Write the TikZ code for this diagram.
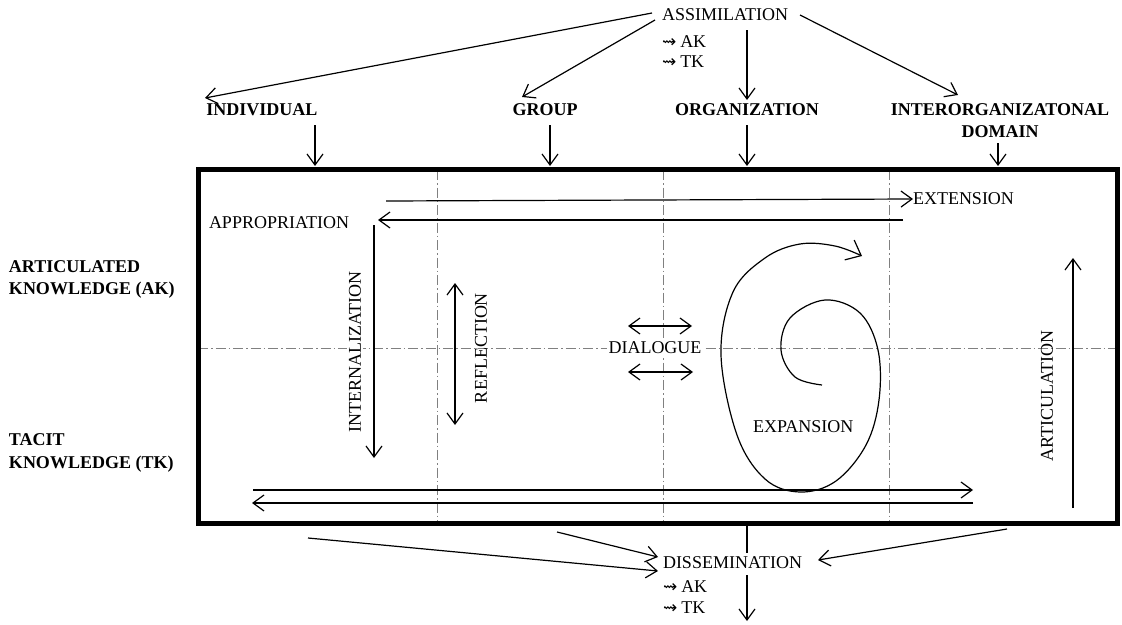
\documentclass[tikz,border=0pt]{standalone}
\usepackage{fontspec}
\setmainfont{Liberation Serif}
\newfontfamily\symfont{DejaVu Sans}
\usetikzlibrary{arrows.meta}
\newcommand{\ksym}{{\symfont\fontsize{17}{17}\selectfont ⇝}\hspace{4pt}}
\begin{document}
\begin{tikzpicture}[x=1pt,y=-1pt,
  every node/.style={inner sep=0pt, outer sep=0pt, font=\fontsize{18}{20}\selectfont},
  lbl/.style={font=\fontsize{18}{20}\selectfont\bfseries},
  ln/.style={line width=1.2pt},
  arr/.style={ln, -{Straight Barb[length=11pt,width=16pt]}},
  dbl/.style={ln, {Straight Barb[length=11pt,width=16pt]}-{Straight Barb[length=11pt,width=16pt]}},
  gridln/.style={gray, line width=0.5pt, dash pattern=on 10pt off 3pt on 1.5pt off 3pt},
  frame/.style={line width=5pt},
]
\useasboundingbox (0,0) rectangle (1122,624);

% grid lines
\coordinate (g1t) at (437,170); \coordinate (g1b) at (437,522);
\coordinate (g2t) at (663,170); \coordinate (g2b) at (663,522);
\coordinate (g3t) at (889,170); \coordinate (g3b) at (889,522);
\coordinate (ghl) at (198,348); \coordinate (ghr) at (1117,348);
\draw[gridln] (g1t) -- (g1b);
\draw[gridln] (g2t) -- (g2b);
\draw[gridln] (g3t) -- (g3b);
\draw[gridln] (ghl) -- (ghr);

% frame
\coordinate (fa) at (198,169.5); \coordinate (fb) at (1117,523);
\draw[frame] (fa) rectangle (fb);

% top
\node[anchor=west] (assim) at (662,15) {ASSIMILATION};
\node[anchor=west] (aak) at (662,42) {\ksym AK};
\node[anchor=west] (atk) at (662,62) {\ksym TK};

\node[lbl] (ind) at (262,110) {INDIVIDUAL};
\node[lbl] (grp) at (545,110) {GROUP};
\node[lbl] (org) at (747,110) {ORGANIZATION};
\node[lbl] (inter) at (1000,110) {INTERORGANIZATONAL};
\node[lbl] (dom) at (1000,132) {DOMAIN};

\coordinate (s1) at (652,13); \coordinate (s2) at (655,20);
\coordinate (s3) at (747,30); \coordinate (s4) at (800,15);
\coordinate (t1) at (205,98); \coordinate (t2) at (522,97);
\coordinate (t3) at (747,100); \coordinate (t4) at (958,95);
\draw[arr] (s1) -- (t1);
\draw[arr] (s2) -- (t2);
\draw[arr] (s3) -- (t3);
\draw[arr] (s4) -- (t4);

\coordinate (d1a) at (315,125); \coordinate (d1b) at (315,166);
\coordinate (d2a) at (550,125); \coordinate (d2b) at (550,166);
\coordinate (d3a) at (747,125); \coordinate (d3b) at (747,166);
\coordinate (d4a) at (998,143); \coordinate (d4b) at (998,166);
\draw[arr] (d1a) -- (d1b);
\draw[arr] (d2a) -- (d2b);
\draw[arr] (d3a) -- (d3b);
\draw[arr] (d4a) -- (d4b);

% left labels
\node[lbl, anchor=west] (art1) at (9,267) {ARTICULATED};
\node[lbl, anchor=west] (art2) at (9,290) {KNOWLEDGE (AK)};
\node[lbl, anchor=west] (tac1) at (9,440) {TACIT};
\node[lbl, anchor=west] (tac2) at (9,464) {KNOWLEDGE (TK)};

% inside
\node[anchor=west] (ext) at (913,199) {EXTENSION};
\node[anchor=west] (app) at (209,223) {APPROPRIATION};
\coordinate (e1) at (386,201); \coordinate (e2) at (903,220); \coordinate (e3) at (378,220);
\draw[arr] (e1) -- (ext.west);
\draw[arr] (e2) -- (e3);

\node[rotate=90, fill=white, inner sep=2pt] (intl) at (355,352) {INTERNALIZATION};
\coordinate (i1) at (374,225); \coordinate (i2) at (374,458);
\draw[arr] (i1) -- (i2);

\node[rotate=90] (refl) at (481,348) {REFLECTION};
\coordinate (r1) at (455,425); \coordinate (r2) at (455,283);
\draw[dbl] (r1) -- (r2);

\node[fill=white, inner sep=2pt] (dia) at (655,348) {DIALOGUE};
\coordinate (q1) at (628,326); \coordinate (q2) at (692,326);
\coordinate (q3) at (628,372); \coordinate (q4) at (693,372);
\draw[dbl] (q1) -- (q2);
\draw[dbl] (q3) -- (q4);

% spiral
\draw[ln, -{Straight Barb[length=13pt,width=22pt]}] plot[smooth, tension=0.6] coordinates {
 (822,385) (795,377) (781,350) (790,318) (825,300) (860,313) (878,350)
 (879,400) (866,445) (836,481) (800,492) (765,479) (737,435) (721,355)
 (733,292) (765,258) (800,244) (835,246) (862,256)};
\node[anchor=west] (expn) at (753,427) {EXPANSION};

\node[rotate=90] (artc) at (1047,396) {ARTICULATION};
\coordinate (c1) at (1073,508); \coordinate (c2) at (1073,258);
\draw[arr] (c1) -- (c2);

\coordinate (b1) at (253,490); \coordinate (b2) at (973,490);
\coordinate (b3) at (973,503); \coordinate (b4) at (252,503);
\draw[arr] (b1) -- (b2);
\draw[arr] (b3) -- (b4);

% bottom
\node[anchor=west] (diss) at (663,563) {DISSEMINATION};
\node[anchor=west] (dak) at (663,587) {\ksym AK};
\node[anchor=west] (dtk) at (663,608) {\ksym TK};
\coordinate (u1) at (308,538); \coordinate (u2) at (658,571);
\coordinate (u3) at (557,532); \coordinate (u4) at (658,557);
\coordinate (u5) at (1007,529); \coordinate (u6) at (818,560);
\draw[arr] (u1) -- (u2);
\draw[arr] (u3) -- (u4);
\draw[arr] (u5) -- (u6);
\coordinate (v1) at (747,526); \coordinate (v2) at (747,553);
\coordinate (v3) at (747,575); \coordinate (v4) at (747,621);
\draw[ln] (v1) -- (v2);
\draw[arr] (v3) -- (v4);
\end{tikzpicture}
\end{document}
